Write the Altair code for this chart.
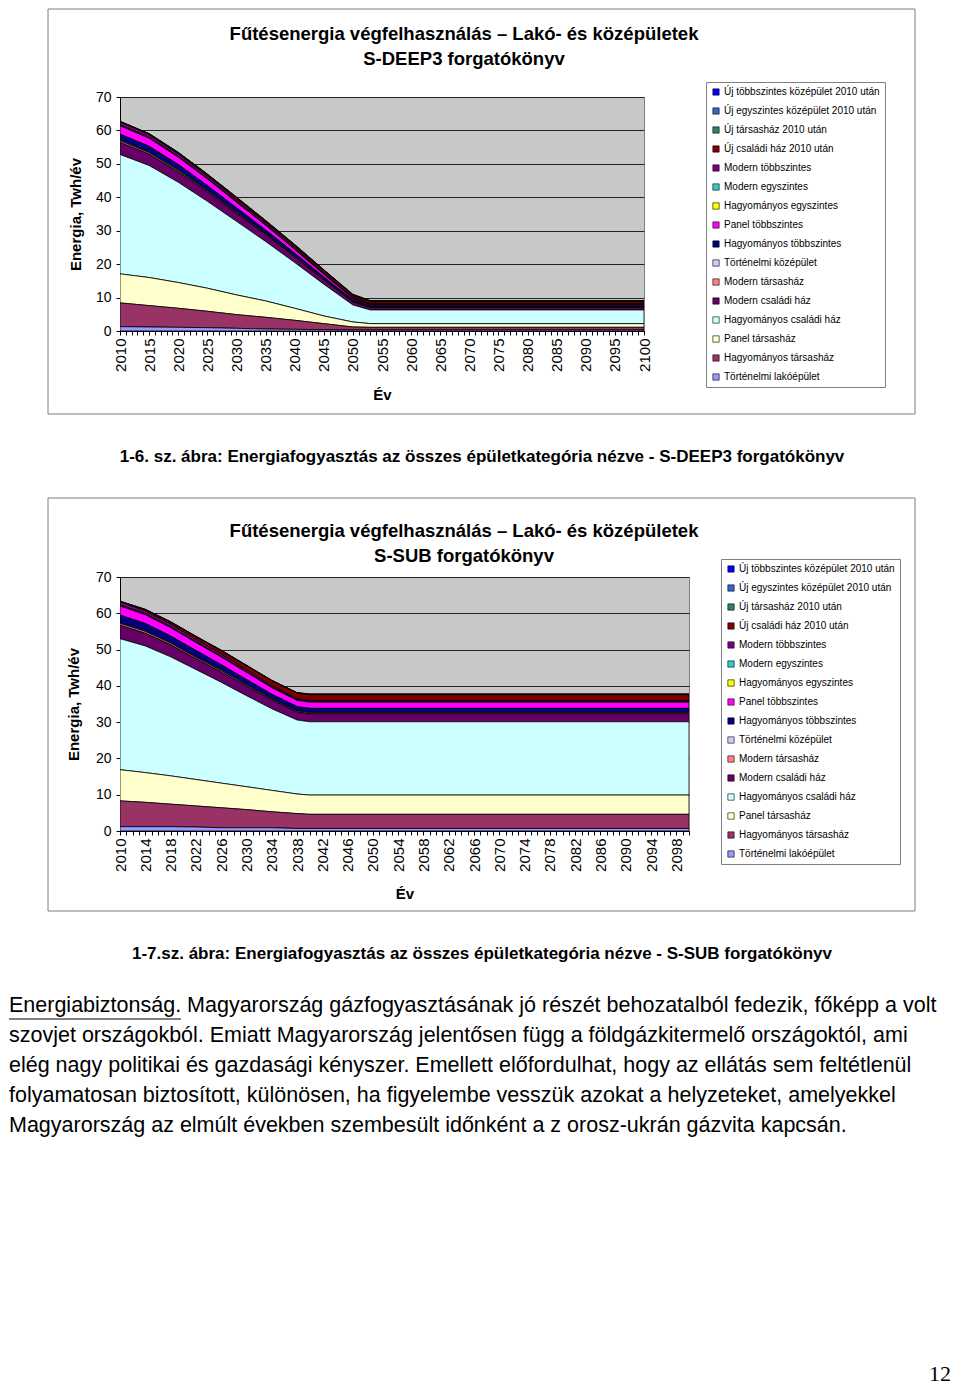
import altair as alt
import pandas as pd

# ---------------- series (legend order, top to bottom) ----------------
SERIES = [
    "Új többszintes középület 2010 után",
    "Új egyszintes középület 2010 után",
    "Új társasház 2010 után",
    "Új családi ház 2010 után",
    "Modern többszintes",
    "Modern egyszintes",
    "Hagyományos egyszintes",
    "Panel többszintes",
    "Hagyományos többszintes",
    "Történelmi középület",
    "Modern társasház",
    "Modern családi ház",
    "Hagyományos családi ház",
    "Panel társasház",
    "Hagyományos társasház",
    "Történelmi lakóépület",
]
COLORS = ["#0000FF", "#3366CC", "#2E8070", "#800000", "#800080", "#33CCCC",
          "#FFFF00", "#FF00FF", "#000080", "#CCCCFF", "#FF8080", "#660066",
          "#CCFFFF", "#FFFFCC", "#993366", "#9999FF"]

# ---------------- S-DEEP3 (TWh/év) ----------------
DEEP3_YEARS = [2010, 2015, 2020, 2025, 2030, 2035, 2040, 2045, 2050, 2053, 2100]
D_UJ_TOBB = [0.05, 0.05, 0.05, 0.05, 0.1, 0.1, 0.1, 0.1, 0.1, 0.1, 0.1]
D_UJ_EGY = [0.05, 0.05, 0.05, 0.05, 0.1, 0.1, 0.1, 0.1, 0.1, 0.1, 0.1]
D_UJ_TARS = [0.05, 0.05, 0.1, 0.1, 0.15, 0.15, 0.2, 0.2, 0.2, 0.2, 0.2]
D_UJ_CSAL = [0.1, 0.2, 0.3, 0.4, 0.5, 0.5, 0.55, 0.6, 0.6, 0.6, 0.6]
D_MOD_TOBB = [0.8, 0.75, 0.7, 0.6, 0.5, 0.45, 0.4, 0.3, 0.2, 0.2, 0.2]
D_MOD_EGY = [0.1, 0.1, 0.1, 0.1, 0.1, 0.05, 0.05, 0.05, 0.05, 0.05, 0.05]
D_HAGY_EGY = [0.2, 0.2, 0.15, 0.15, 0.1, 0.1, 0.1, 0.05, 0.05, 0.05, 0.05]
D_PANEL_TOBB = [2.5, 2.4, 2.2, 2.0, 1.7, 1.4, 1.1, 0.8, 0.4, 0.3, 0.3]
D_HAGY_TOBB = [1.8, 1.7, 1.6, 1.4, 1.2, 1.0, 0.8, 0.6, 0.4, 0.3, 0.3]
D_TORT_KOZ = [0.2, 0.2, 0.2, 0.15, 0.15, 0.1, 0.1, 0.1, 0.1, 0.1, 0.1]
D_MOD_TARS = [0.5, 0.45, 0.4, 0.35, 0.3, 0.25, 0.2, 0.15, 0.1, 0.1, 0.1]
D_MOD_CSAL = [3.6, 3.4, 3.1, 2.8, 2.4, 2.1, 1.7, 1.3, 0.9, 0.7, 0.7]
D_HAGY_CSAL = [35.7, 33.5, 30.0, 26.0, 22.0, 17.8, 13.7, 9.5, 5.1, 4.1, 4.1]
D_PANEL_TARS = [8.7, 8.4, 7.7, 6.9, 5.9, 4.9, 3.6, 2.3, 1.5, 1.1, 1.1]
D_HAGY_TARS = [7.1, 6.4, 5.7, 4.9, 4.1, 3.5, 2.7, 1.8, 0.9, 0.8, 0.8]
D_TORT_LAKO = [1.3, 1.2, 1.1, 1.0, 0.8, 0.6, 0.5, 0.4, 0.3, 0.3, 0.3]

# ---------------- S-SUB (TWh/év) ----------------
SUB_YEARS = [2010, 2014, 2018, 2022, 2026, 2030, 2034, 2038, 2040, 2100]
S_UJ_TOBB = [0.05, 0.05, 0.05, 0.05, 0.05, 0.05, 0.05, 0.05, 0.05, 0.05]
S_UJ_EGY = [0.05, 0.05, 0.05, 0.05, 0.05, 0.05, 0.05, 0.05, 0.05, 0.05]
S_UJ_TARS = [0.05, 0.05, 0.1, 0.1, 0.1, 0.1, 0.1, 0.1, 0.1, 0.1]
S_UJ_CSAL = [0.1, 0.3, 0.5, 0.7, 0.9, 1.1, 1.3, 1.5, 1.6, 1.6]
S_MOD_TOBB = [0.8, 0.75, 0.7, 0.65, 0.6, 0.5, 0.4, 0.3, 0.3, 0.3]
S_MOD_EGY = [0.1, 0.1, 0.1, 0.05, 0.05, 0.05, 0.05, 0.05, 0.05, 0.05]
S_HAGY_EGY = [0.2, 0.2, 0.15, 0.15, 0.15, 0.1, 0.1, 0.1, 0.1, 0.1]
S_PANEL_TOBB = [2.5, 2.4, 2.3, 2.2, 2.1, 2.0, 1.8, 1.7, 1.7, 1.7]
S_HAGY_TOBB = [2.1, 2.0, 1.8, 1.7, 1.5, 1.4, 1.2, 1.1, 1.1, 1.1]
S_TORT_KOZ = [0.2, 0.2, 0.2, 0.15, 0.15, 0.1, 0.1, 0.1, 0.1, 0.1]
S_MOD_TARS = [0.5, 0.5, 0.45, 0.4, 0.4, 0.35, 0.3, 0.3, 0.3, 0.3]
S_MOD_CSAL = [3.7, 3.5, 3.3, 3.0, 2.8, 2.6, 2.4, 2.2, 2.2, 2.2]
S_HAGY_CSAL = [36.1, 34.9, 32.8, 30.3, 27.8, 25.1, 22.5, 20.4, 20.2, 20.2]
S_PANEL_TARS = [8.6, 8.2, 7.8, 7.3, 6.8, 6.3, 5.9, 5.4, 5.3, 5.3]
S_HAGY_TARS = [7.1, 6.7, 6.2, 5.8, 5.5, 5.0, 4.4, 4.1, 3.9, 3.9]
S_TORT_LAKO = [1.2, 1.2, 1.2, 1.1, 0.9, 0.9, 0.9, 0.7, 0.7, 0.7]

# ---------------- texts ----------------
TITLE1 = ["Fűtésenergia végfelhasználás – Lakó- és középületek", "S-DEEP3 forgatókönyv"]
TITLE2 = ["Fűtésenergia végfelhasználás – Lakó- és középületek", "S-SUB forgatókönyv"]
CAPTION1 = "1-6. sz. ábra: Energiafogyasztás az összes épületkategória nézve - S-DEEP3 forgatókönyv"
CAPTION2 = "1-7.sz. ábra: Energiafogyasztás az összes épületkategória nézve - S-SUB forgatókönyv"
PARAGRAPH = [
    "Energiabiztonság. Magyarország gázfogyasztásának jó részét behozatalból fedezik, főképp a volt",
    "szovjet országokból. Emiatt Magyarország jelentősen függ a földgázkitermelő országoktól, ami",
    "elég nagy politikai és gazdasági kényszer. Emellett előfordulhat, hogy az ellátás sem feltétlenül",
    "folyamatosan biztosított, különösen, ha figyelembe vesszük azokat a helyzeteket, amelyekkel",
    "Magyarország az elmúlt években szembesült időnként a z orosz-ukrán gázvita kapcsán.",
]
UNDERLINED = "Energiabiztonság."
PAGE_NO = "12"
Y_TITLE = "Energia, Twh/év"
X_TITLE = "Év"

FONT = "Liberation Sans"

deep3_lists = [D_UJ_TOBB, D_UJ_EGY, D_UJ_TARS, D_UJ_CSAL, D_MOD_TOBB, D_MOD_EGY,
               D_HAGY_EGY, D_PANEL_TOBB, D_HAGY_TOBB, D_TORT_KOZ, D_MOD_TARS,
               D_MOD_CSAL, D_HAGY_CSAL, D_PANEL_TARS, D_HAGY_TARS, D_TORT_LAKO]
sub_lists = [S_UJ_TOBB, S_UJ_EGY, S_UJ_TARS, S_UJ_CSAL, S_MOD_TOBB, S_MOD_EGY,
             S_HAGY_EGY, S_PANEL_TOBB, S_HAGY_TOBB, S_TORT_KOZ, S_MOD_TARS,
             S_MOD_CSAL, S_HAGY_CSAL, S_PANEL_TARS, S_HAGY_TARS, S_TORT_LAKO]


def long_df(years, lists):
    rows = []
    n = len(SERIES)
    for i, (name, vals) in enumerate(zip(SERIES, lists)):
        for y, v in zip(years, vals):
            rows.append({"ev": y, "sorozat": name, "ertek": v, "rend": n - 1 - i})
    return pd.DataFrame(rows)


def text_layer(txt, x, y, size, weight="normal", align="center", font=FONT):
    return alt.Chart(pd.DataFrame({"t": [txt]})).mark_text(
        align=align, baseline="middle", font=font, fontSize=size,
        fontWeight=weight, color="black"
    ).encode(text="t:N", x=alt.value(x), y=alt.value(y))


def frame_layer(x1, x2, y1, y2):
    return alt.Chart(pd.DataFrame({"k": [0]})).mark_rect(
        fillOpacity=0, stroke="#7F7F7F", strokeWidth=1
    ).encode(x=alt.value(x1), x2=alt.value(x2), y=alt.value(y1), y2=alt.value(y2))


def area_chart(df, step, width, height, legend_xy, ytitle_pad, xtitle_pad):
    lbl = "(datum.value - 2010) % " + str(step) + " == 0 ? '' + datum.value : ''"
    return alt.Chart(df).mark_area(stroke="black", strokeWidth=0.8, clip=True).encode(
        x=alt.X("ev:Q", scale=alt.Scale(domain=[2010, 2100], nice=False, zero=False),
                axis=alt.Axis(values=list(range(2010, 2101)), labelExpr=lbl,
                              labelAngle=270, labelFont=FONT, labelFontSize=15,
                              labelColor="black", labelOverlap=False, labelPadding=3,
                              tickSize=4, tickColor="black", domainColor="black",
                              grid=False, title=X_TITLE, titleFont=FONT,
                              titleFontSize=15, titleFontWeight="bold",
                              titleColor="black", titlePadding=xtitle_pad)),
        y=alt.Y("ertek:Q", stack="zero", scale=alt.Scale(domain=[0, 70], nice=False),
                axis=alt.Axis(values=[0, 10, 20, 30, 40, 50, 60, 70], labelFont=FONT,
                              labelFontSize=14, labelColor="black", labelPadding=5,
                              tickSize=4, tickColor="black", domainColor="black",
                              grid=True, gridColor="#222222", gridWidth=1,
                              title=Y_TITLE, titleFont=FONT, titleFontSize=15,
                              titleFontWeight="bold", titleColor="black",
                              titlePadding=ytitle_pad)),
        color=alt.Color("sorozat:N", scale=alt.Scale(domain=SERIES, range=COLORS),
                        legend=alt.Legend(title=None, orient="none",
                                          legendX=legend_xy[0], legendY=legend_xy[1],
                                          symbolType="square", symbolSize=40,
                                          symbolStrokeColor="black", symbolStrokeWidth=0.6,
                                          labelFont=FONT, labelFontSize=10,
                                          labelColor="black", labelLimit=0,
                                          rowPadding=9, padding=5, labelOffset=3,
                                          strokeColor="#7F7F7F", fillColor="white")),
        order=alt.Order("rend:Q", sort="ascending"),
    ).properties(width=width, height=height)


# ---------------- chart 1 ----------------
W1, H1 = 524, 234
c1 = alt.layer(
    area_chart(long_df(DEEP3_YEARS, deep3_lists), 5, W1, H1, (586, -15), 12, 16),
    frame_layer(-72, 795, -88, 317),
    text_layer(TITLE1[0], 344, -63, 18.5, "bold"),
    text_layer(TITLE1[1], 344, -38, 18.5, "bold"),
    text_layer(CAPTION1, 362, 360, 17, "bold"),
)

# ---------------- chart 2 ----------------
W2, H2 = 569, 254
para_layers = []
for i, line in enumerate(PARAGRAPH):
    para_layers.append(text_layer(line, -111, 429 + 30 * i, 21.5, "normal", "left"))

underline = alt.Chart(pd.DataFrame({"t": [UNDERLINED]})).mark_rule(
    color="black", strokeWidth=1
).encode(x=alt.value(-111), x2=alt.value(-111 + 172), y=alt.value(442))

c2 = alt.layer(
    area_chart(long_df(SUB_YEARS, sub_lists), 4, W2, H2, (601, -18), 14, 15),
    frame_layer(-72, 795, -79, 334),
    text_layer(TITLE2[0], 344, -46, 18.5, "bold"),
    text_layer(TITLE2[1], 344, -21, 18.5, "bold"),
    text_layer(CAPTION2, 362, 377, 17, "bold"),
    *para_layers,
    underline,
    text_layer(PAGE_NO, 831, 797, 22, "normal", "right", "Liberation Serif"),
)

chart = alt.vconcat(c1, c2, spacing=246, bounds="flush").resolve_scale(
    color="independent", x="independent", y="independent"
).properties(padding=0, background="white").configure_view(
    fill="#C8C8C8", stroke="#808080"
)

chart.save("out.html", embed_options={"renderer": "svg", "actions": False})
